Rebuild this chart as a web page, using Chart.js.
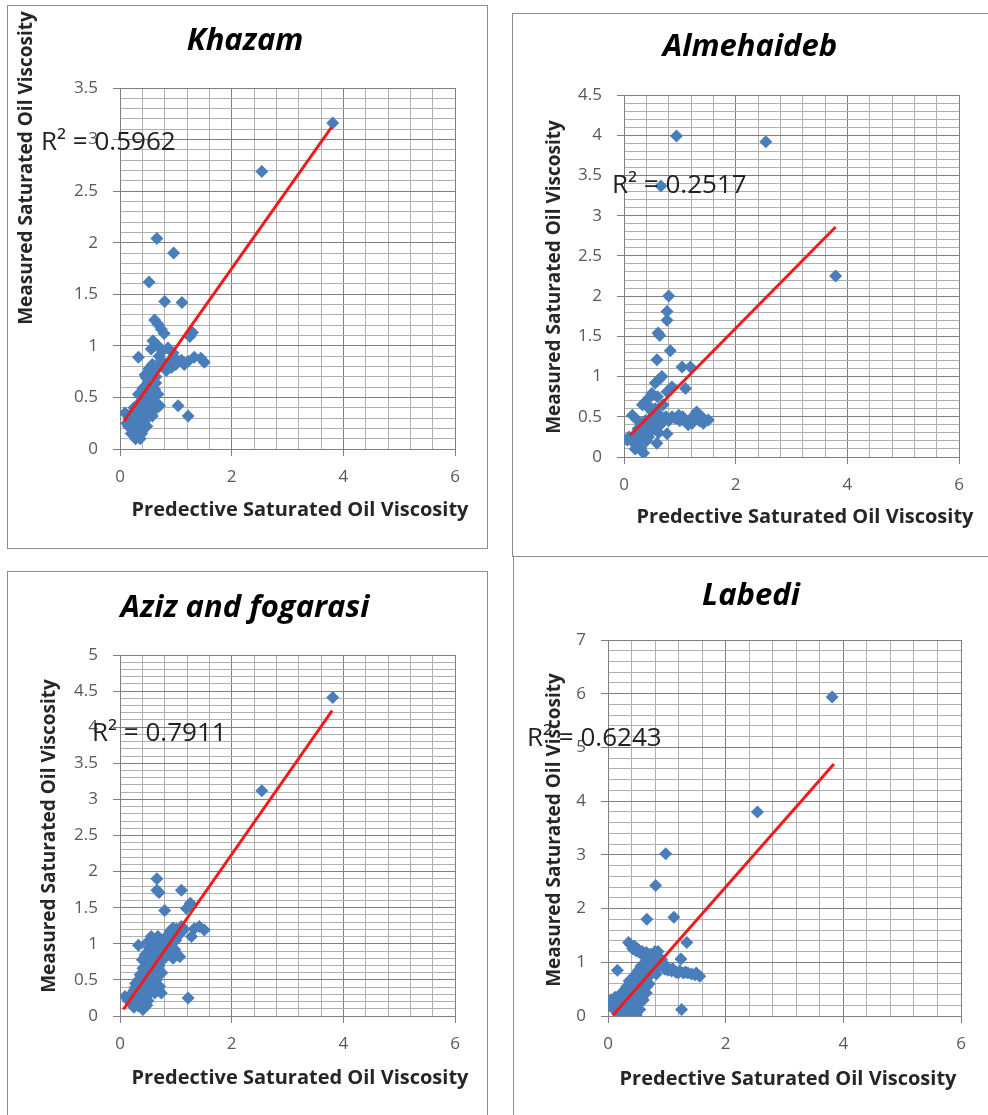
<!DOCTYPE html>
<html>
<head>
<meta charset="utf-8">
<script src="https://cdn.jsdelivr.net/npm/chart.js@4.4.0/dist/chart.umd.min.js"></script>
<style>
body{margin:0;background:#fff;width:988px;height:1115px;overflow:hidden;position:relative}
.box{position:absolute;border:1px solid #8c8c8c;box-sizing:border-box}
canvas{position:absolute}
</style>
</head>
<body>
<div class="box" style="left:7px;top:5px;width:481px;height:544px"></div>
<div class="box" style="left:512px;top:13px;width:490px;height:544px"></div>
<div class="box" style="left:7px;top:571px;width:481px;height:560px"></div>
<div class="box" style="left:513px;top:556px;width:490px;height:580px;border-top:none"></div>
<canvas id="c1" width="480" height="543" style="left:7px;top:5px"></canvas>
<canvas id="c2" width="476" height="543" style="left:512px;top:13px"></canvas>
<canvas id="c3" width="480" height="544" style="left:7px;top:571px"></canvas>
<canvas id="c4" width="475" height="556" style="left:513px;top:559px"></canvas>
<script>
const khazamX = [0.66,0.96,0.52,0.80,1.11,0.62,0.68,0.74,0.79,1.30,1.25,0.59,0.68,0.56,0.33,0.86,0.95,1.22,1.33,1.45,1.51,1.04,0.92,0.83,0.68,0.56,0.47,0.50,0.41,0.62,0.68,0.33,0.39,0.30,0.50,0.71,0.56,1.04,1.22,0.09,0.18,0.24,0.15,0.33,0.44,0.50,0.36,0.39,0.27,0.30,0.20,0.36,0.45,0.28,0.42,0.60,0.64,0.74,0.88,1.00,0.12,0.52,0.35,0.62,
  0.45,0.52,0.58,0.70,0.76,0.64,0.55,0.45,0.38,0.30,0.22,0.25,0.40,0.48,0.35,0.20,0.28,0.58,0.66,0.80,0.98,1.10,1.15,2.54,3.81];
const khazamY = [2.04,1.90,1.62,1.43,1.42,1.25,1.21,1.16,1.12,1.13,1.09,1.05,1.00,0.97,0.89,0.98,0.93,0.85,0.89,0.88,0.84,0.85,0.79,0.76,0.79,0.74,0.69,0.64,0.59,0.58,0.53,0.53,0.47,0.42,0.45,0.42,0.38,0.42,0.32,0.35,0.27,0.21,0.22,0.21,0.27,0.34,0.10,0.15,0.34,0.14,0.30,0.38,0.50,0.25,0.32,0.62,0.70,0.86,0.84,0.82,0.25,0.55,0.30,0.45,
  0.72,0.78,0.82,0.90,0.95,0.64,0.50,0.42,0.35,0.30,0.35,0.40,0.25,0.22,0.20,0.15,0.10,0.32,0.40,0.82,0.88,0.86,0.82,2.69,3.16];

const almeX = [0.80,0.77,0.77,0.61,0.64,0.83,0.59,1.04,1.19,0.68,0.62,0.56,0.86,0.77,1.10,0.50,0.44,0.39,0.33,0.15,0.44,0.56,0.86,0.98,1.10,1.22,1.30,1.39,1.51,1.42,0.68,0.56,0.44,0.33,0.21,0.09,0.06,0.18,0.30,0.35,0.59,0.77,0.44,0.25,0.50,0.72,0.92,0.62,0.38,1.25,1.15,
  0.25,0.35,0.45,0.55,0.60,0.50,0.40,0.30,0.20,0.15,0.65,0.75,0.80,1.00,1.05,1.20,1.35,0.70,0.60,0.50,0.45,0.25,0.94,2.54,0.66,3.79];
const almeY = [2.00,1.81,1.70,1.54,1.51,1.32,1.21,1.12,1.12,1.00,0.96,0.92,0.87,0.81,0.85,0.79,0.73,0.69,0.65,0.52,0.61,0.60,0.50,0.52,0.46,0.42,0.56,0.50,0.46,0.42,0.46,0.42,0.38,0.34,0.29,0.25,0.21,0.17,0.11,0.05,0.17,0.29,0.25,0.22,0.50,0.45,0.48,0.30,0.45,0.50,0.40,
  0.35,0.40,0.45,0.50,0.55,0.35,0.20,0.25,0.10,0.20,0.40,0.50,0.45,0.45,0.50,0.48,0.45,0.65,0.75,0.60,0.30,0.45,3.99,3.92,3.37,2.25];

const azizX = [0.66,0.66,0.70,1.10,0.80,1.19,1.26,1.10,1.01,1.33,1.42,1.51,1.28,0.92,0.83,0.68,0.56,0.50,0.33,0.68,0.86,0.98,1.07,0.95,0.62,0.56,0.47,0.41,0.65,0.77,0.36,0.33,0.50,0.65,0.71,0.74,0.62,0.42,0.27,0.09,0.18,0.15,0.24,0.33,0.41,0.39,0.50,1.22,0.58,0.72,0.80,0.88,0.60,0.45,0.55,0.30,1.00,0.75,0.52,
  0.20,0.25,0.35,0.40,0.45,0.50,0.55,0.60,0.65,0.70,0.75,0.80,0.85,0.90,0.95,0.60,0.45,0.40,0.70,0.80,0.90,1.00,1.05,1.15,0.35,0.45,0.55,0.65,0.25,0.20,0.30,0.38,0.48,0.58,0.40,0.28,2.54,3.81];
const azizY = [1.90,1.74,1.71,1.74,1.46,1.49,1.56,1.24,1.20,1.21,1.24,1.19,1.10,1.14,1.08,1.10,1.10,1.03,0.98,0.98,0.98,0.92,0.82,0.80,0.92,0.82,0.76,0.66,0.76,0.78,0.57,0.50,0.52,0.50,0.41,0.32,0.32,0.35,0.39,0.27,0.23,0.21,0.16,0.14,0.09,0.18,0.21,0.25,0.62,0.88,1.02,1.10,0.70,0.45,0.40,0.28,1.05,0.60,0.95,
  0.30,0.35,0.45,0.55,0.62,0.70,0.75,0.85,0.90,0.95,1.00,1.05,1.12,1.18,1.22,1.05,0.85,0.78,0.70,0.90,0.85,0.88,1.12,1.20,0.25,0.28,0.33,0.35,0.12,0.18,0.22,0.12,0.15,0.45,0.40,0.45,3.12,4.41];

const labediX = [0.98,0.81,0.66,1.12,1.34,1.24,0.16,0.35,0.43,0.51,0.60,0.68,0.80,0.86,0.91,0.71,0.56,0.49,0.97,1.08,1.19,1.36,1.48,1.56,0.82,0.68,0.60,0.46,0.38,0.54,0.65,0.32,0.20,0.09,0.06,0.23,0.34,0.46,0.54,0.60,0.17,0.31,1.25,0.40,0.28,0.75,0.65,
  0.42,0.47,0.55,0.62,0.70,0.78,0.88,0.95,1.02,1.15,1.28,1.42,0.10,0.15,0.25,0.30,0.40,0.45,0.52,0.58,0.65,0.72,0.85,0.20,0.28,0.38,0.50,0.42,0.35,0.12,0.05,0.55,0.70,
  0.38,0.45,0.50,0.58,0.65,0.75,0.82,0.92,1.00,1.10,1.22,1.32,1.50,0.08,0.12,0.18,0.22,0.28,0.32,0.36,0.44,0.48,0.56,0.62,0.68,0.74,0.80,0.26,0.36,0.44,0.52,0.60,0.66,0.48,0.40,0.22,2.54,3.81];
const labediY = [3.02,2.43,1.80,1.84,1.37,1.06,0.85,1.37,1.29,1.20,1.14,1.15,1.20,1.10,1.05,0.98,0.92,0.80,0.87,0.84,0.80,0.80,0.77,0.74,0.78,0.72,0.62,0.59,0.56,0.49,0.43,0.43,0.37,0.30,0.18,0.18,0.12,0.06,0.12,0.30,0.06,0.03,0.12,0.30,0.25,0.95,0.85,
  1.25,1.22,1.18,1.10,1.05,1.00,0.95,0.90,0.85,0.82,0.80,0.78,0.15,0.25,0.35,0.50,0.65,0.75,0.85,0.95,1.00,1.15,1.20,0.10,0.08,0.05,0.22,0.40,0.30,0.35,0.30,0.55,0.60,
  1.33,1.30,1.25,1.20,1.18,1.10,1.05,0.98,0.92,0.88,0.84,0.82,0.80,0.22,0.10,0.30,0.42,0.35,0.55,0.65,0.50,0.70,0.78,0.88,0.92,0.82,0.90,0.15,0.20,0.15,0.35,0.45,0.55,0.02,0.10,0.05,3.80,5.94];

// lineas de tendencia (extremos)
const khazamTrend = [[0.07,0.27],[3.79,3.12]];
const almeTrend = [[0.11,0.27],[3.79,2.86]];
const azizTrend = [[0.06,0.09],[3.80,4.23]];
const labediTrend = [[0.08,0.01],[3.84,4.69]];

const titulos = ['Khazam','Almehaideb','Aziz and fogarasi','Labedi'];
const r2 = ['R\u00b2 = 0.5962','R\u00b2 = 0.2517','R\u00b2 = 0.7911','R\u00b2 = 0.6243'];
const yMax = [3.5, 4.5, 5, 7];
const yMajor = [0.5, 0.5, 0.5, 1];
const yMinor = [0.1, 0.1, 0.1, 0.2];

const FONT = '"Open Sans", sans-serif';
const AZUL = '#4a7ebb';
const ROJO = '#ee1c1c';
const esMayor = (v, m) => Math.abs(v / m - Math.round(v / m)) < 1e-6;

// posiciones de cada panel en la pagina
const paneles = [
  {canvas:'c1', cx:7, cy:5, plot:{l:120,t:88,r:455,b:449}, title:[245,41], r2:[41,143], yt:[27,168], xt:[300,510]},
  {canvas:'c2', cx:512, cy:13, plot:{l:624,t:95,r:959,b:457}, title:[750,47], r2:[612,186], yt:[555,277], xt:[805,517]},
  {canvas:'c3', cx:7, cy:571, plot:{l:120,t:655,r:455,b:1016}, title:[245,608], r2:[92,734], yt:[50,836], xt:[300,1078]},
  {canvas:'c4', cx:513, cy:559, plot:{l:608,t:640,r:961,b:1016}, title:[751,596], r2:[527,739], yt:[555,830], xt:[788,1079]}
];

function textos(p, i) {
  return {
    id: 'textos' + i,
    afterDraw(chart) {
      const c = chart.ctx;
      c.save();
      c.fillStyle = '#000';
      c.textAlign = 'center';
      c.textBaseline = 'middle';
      c.font = 'italic bold 31px ' + FONT;
      c.fillText(titulos[i], p.title[0] - p.cx, p.title[1] - p.cy);
      c.font = 'bold 20px ' + FONT;
      c.fillStyle = '#262626';
      c.fillText('Predective Saturated Oil Viscosity', p.xt[0] - p.cx, p.xt[1] - p.cy);
      c.font = 'bold 19px ' + FONT;
      c.save();
      c.translate(p.yt[0] - p.cx, p.yt[1] - p.cy);
      c.rotate(-Math.PI / 2);
      c.fillText('Measured Saturated Oil Viscosity', 0, 0);
      c.restore();
      c.textAlign = 'left';
      c.font = '26px ' + FONT;
      c.fillStyle = '#222';
      c.fillText(r2[i], p.r2[0] - p.cx, p.r2[1] - p.cy);
      c.restore();
    }
  };
}

function hacer(p, i, xs, ys, trend) {
  const el = document.getElementById(p.canvas);
  const W = el.width, H = el.height;
  const puntos = xs.map((x, k) => ({x: x, y: ys[k]}));
  const linea = trend.map(t => ({x: t[0], y: t[1]}));
  const gridColor = (ctx, m) => (ctx.tick && esMayor(ctx.tick.value, m)) ? '#7f7f7f' : '#b0b0b0';
  const tickColor = (ctx, m) => (ctx.tick && esMayor(ctx.tick.value, m)) ? '#7f7f7f' : 'rgba(0,0,0,0)';
  return new Chart(el, {
    type: 'scatter',
    data: {
      datasets: [
        {data: linea, showLine: true, borderColor: ROJO, borderWidth: 3, pointRadius: 0, order: 0},
        {data: puntos, pointStyle: 'rectRot', pointRadius: 6.5, backgroundColor: AZUL, borderColor: AZUL, borderWidth: 0, order: 1}
      ]
    },
    options: {
      responsive: false,
      animation: false,
      layout: {padding: {left: 0, top: p.plot.t - p.cy, right: W - (p.plot.r - p.cx), bottom: 0}},
      plugins: {legend: {display: false}, tooltip: {enabled: false}, title: {display: false}},
      scales: {
        x: {
          type: 'linear', min: 0, max: 6,
          afterFit(s) { s.height = H - (p.plot.b - p.cy); },
          ticks: {stepSize: 0.4, autoSkip: false, maxRotation: 0, padding: 11, color: '#595959',
            font: {family: FONT, size: 17},
            callback: v => esMayor(v, 2) ? String(Math.round(v)) : ''},
          grid: {color: c => gridColor(c, 2), tickColor: c => tickColor(c, 2), tickLength: 7, lineWidth: 1},
          border: {color: '#7f7f7f', width: 1}
        },
        y: {
          type: 'linear', min: 0, max: yMax[i],
          afterFit(s) { s.width = p.plot.l - p.cx; },
          ticks: {stepSize: yMinor[i], autoSkip: false, padding: 15, color: '#595959',
            font: {family: FONT, size: 17},
            callback: v => esMayor(v, yMajor[i]) ? String(Math.round(v * 10) / 10) : ''},
          grid: {color: c => gridColor(c, yMajor[i]), tickColor: c => tickColor(c, yMajor[i]), tickLength: 7, lineWidth: 1},
          border: {color: '#7f7f7f', width: 1}
        }
      }
    },
    plugins: [textos(p, i)]
  });
}

hacer(paneles[0], 0, khazamX, khazamY, khazamTrend);
hacer(paneles[1], 1, almeX, almeY, almeTrend);
hacer(paneles[2], 2, azizX, azizY, azizTrend);
hacer(paneles[3], 3, labediX, labediY, labediTrend);
</script>
</body>
</html>
